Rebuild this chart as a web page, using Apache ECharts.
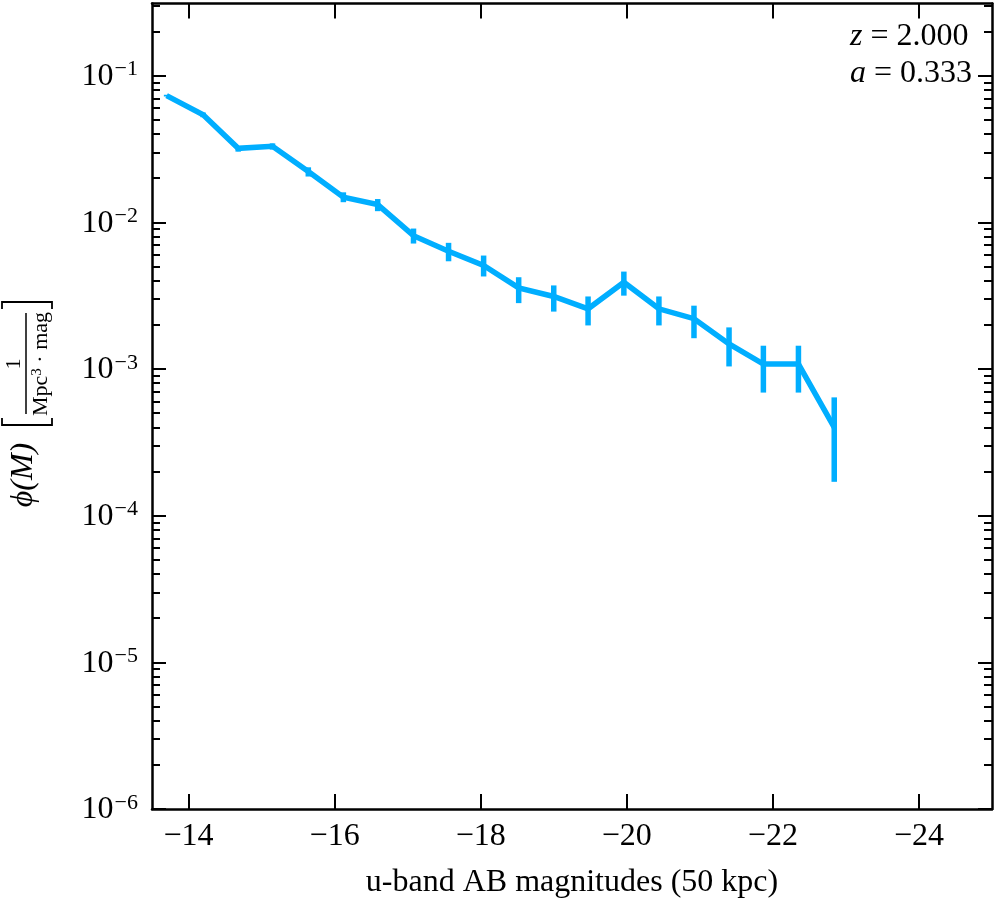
<!DOCTYPE html>
<html>
<head>
<meta charset="utf-8">
<script src="https://cdn.jsdelivr.net/npm/echarts@6/dist/echarts.min.js"></script>
<style>
html,body{margin:0;padding:0;background:#fff}
#main{width:996px;height:900px}
</style>
</head>
<body>
<div id="main"></div>
<script>
// u-band luminosity function, z = 2
var mag   = [-13.70, -14.20, -14.68, -15.15, -15.64, -16.12, -16.59, -17.08, -17.56, -18.04,
             -18.52, -19.00, -19.47, -19.96, -20.44, -20.92, -21.40, -21.87, -22.35, -22.84];
var phi   = [0.073, 0.054, 0.0319, 0.033, 0.0222, 0.0148, 0.0132, 0.0081, 0.00634, 0.00507,
             0.00357, 0.00312, 0.00257, 0.0039, 0.00257, 0.0022, 0.00148, 0.00108, 0.00108, 0.0004];
var phiLo = [0.072, 0.052, 0.0303, 0.0313, 0.0205, 0.0137, 0.0119, 0.00716, 0.00542, 0.00427,
             0.00281, 0.00246, 0.00198, 0.00316, 0.00198, 0.00162, 0.00104, 0.00069, 0.00069, 0.00017];
var phiHi = [0.074, 0.056, 0.033, 0.0345, 0.0237, 0.016, 0.0144, 0.00906, 0.00724, 0.00593,
             0.00422, 0.00371, 0.00312, 0.00461, 0.00312, 0.0027, 0.00192, 0.00144, 0.00144, 0.00064];

var xTicks = [-14, -16, -18, -20, -22, -24];
var yTicks = [1e-6, 1e-5, 1e-4, 1e-3, 1e-2, 1e-1];
var yMinor = [];
for (var e = -6; e <= -1; e++) {
  for (var k = 2; k <= 9; k++) {
    var v = k * Math.pow(10, e);
    if (v < 0.31) yMinor.push(v);
  }
}

var blue = '#00aeff';
var serif = '"Liberation Serif", "DejaVu Serif", serif';

var lineData = [], errData = [];
for (var i = 0; i < mag.length; i++) {
  lineData.push([mag[i], phi[i]]);
  errData.push([mag[i], phiLo[i], phiHi[i]]);
}

function yLabel(val) {
  var n = Math.round(Math.log(val) / Math.LN10);
  return '{b|10}{s|\u2212' + Math.abs(n) + '}';
}

var xBase = {
  type: 'value', min: -25, max: -13.5, inverse: true,
  splitLine: {show: false},
  axisLine: {lineStyle: {color: '#000', width: 2.5}},
  axisTick: {inside: true, length: 15, lineStyle: {color: '#000', width: 2}, customValues: xTicks}
};
function yAxisDef(pos, minor) {
  return {
    type: 'log', logBase: 10, min: 1e-6, max: 0.31, position: pos,
    splitLine: {show: false},
    axisLine: {show: !minor, lineStyle: {color: '#000', width: 2.5}},
    axisTick: {inside: true, length: minor ? 8 : 14, lineStyle: {color: '#000', width: 2},
               customValues: minor ? yMinor : yTicks},
    axisLabel: (pos === 'left' && !minor) ? {
      customValues: yTicks,
      formatter: yLabel, margin: 14,
      rich: {
        b: {fontFamily: serif, fontSize: 32, color: '#000', lineHeight: 34, verticalAlign: 'bottom'},
        s: {fontFamily: serif, fontSize: 22, color: '#000', lineHeight: 22, verticalAlign: 'top', padding: [0, 0, 16, 1]}
      }
    } : {show: false}
  };
}

var myChart = echarts.init(document.getElementById('main'));
var option = {
  animation: false,
  backgroundColor: '#fff',
  grid: {left: 152, right: 4, top: 3.5, bottom: 91, containLabel: false, outerBoundsMode: 'none'},
  xAxis: [
    echarts.util.merge({
      position: 'bottom',
      name: 'u-band AB magnitudes (50 kpc)', nameLocation: 'middle', nameGap: 58,
      nameTextStyle: {fontFamily: serif, fontSize: 32, color: '#000'},
      axisLabel: {
        customValues: xTicks, margin: 12,
        fontFamily: serif, fontSize: 32, color: '#000',
        formatter: function (v) { return '\u2212' + Math.abs(v); }
      }
    }, xBase, true),
    echarts.util.merge({position: 'top', axisLabel: {show: false}}, echarts.util.clone(xBase), true)
  ],
  yAxis: [
    yAxisDef('left', false),
    yAxisDef('left', true),
    yAxisDef('right', false),
    yAxisDef('right', true)
  ],
  graphic: [
    {
      type: 'group', x: 27, y: 405, rotation: Math.PI / 2, silent: true,
      children: [
        {type: 'text', style: {text: '\u03d5(M)', x: -70, y: -3, align: 'center', verticalAlign: 'middle',
          font: 'italic 32px ' + serif, fill: '#000'}},
        {type: 'polyline', shape: {points: [[-13, -25], [-20, -25], [-20, 25], [-13, 25]]},
          style: {stroke: '#000', lineWidth: 1.8, fill: null}},
        {type: 'text', style: {text: '1', x: 41, y: -13, align: 'center', verticalAlign: 'middle',
          font: '22px ' + serif, fill: '#000'}},
        {type: 'line', shape: {x1: -9, y1: -1, x2: 92, y2: -1}, style: {stroke: '#000', lineWidth: 1.5}},
        {type: 'text', style: {
          text: 'Mpc{s|3} \u00b7 mag', x: 41, y: 14, align: 'center', verticalAlign: 'middle',
          font: '22px ' + serif, fill: '#000',
          rich: {s: {fontFamily: serif, fontSize: 15, verticalAlign: 'top', lineHeight: 14, padding: [0, 0, 8, 0]}}
        }},
        {type: 'polyline', shape: {points: [[96, -25], [103, -25], [103, 25], [96, 25]]},
          style: {stroke: '#000', lineWidth: 1.8, fill: null}}
      ]
    },
    {
      type: 'text', right: 24, top: 18, silent: true,
      style: {
        text: '{i|z} = 2.000\n{i|a} = 0.333', align: 'right',
        font: '32px ' + serif, fill: '#000', lineHeight: 37,
        rich: {i: {fontFamily: serif, fontStyle: 'italic', fontSize: 32}}
      }
    }
  ],
  series: [
    {
      type: 'custom', xAxisIndex: 0, yAxisIndex: 0,
      encode: {x: 0, y: [1, 2]},
      data: errData,
      renderItem: function (params, api) {
        var p1 = api.coord([api.value(0), api.value(1)]);
        var p2 = api.coord([api.value(0), api.value(2)]);
        return {type: 'line', shape: {x1: p1[0], y1: p1[1], x2: p2[0], y2: p2[1]},
                style: {stroke: blue, lineWidth: 5.5}};
      },
      z: 3
    },
    {
      type: 'line', xAxisIndex: 0, yAxisIndex: 0,
      data: lineData, symbol: 'none',
      lineStyle: {color: blue, width: 5.5, join: 'miter'},
      z: 4
    }
  ]
};
myChart.setOption(option);
</script>
</body>
</html>
